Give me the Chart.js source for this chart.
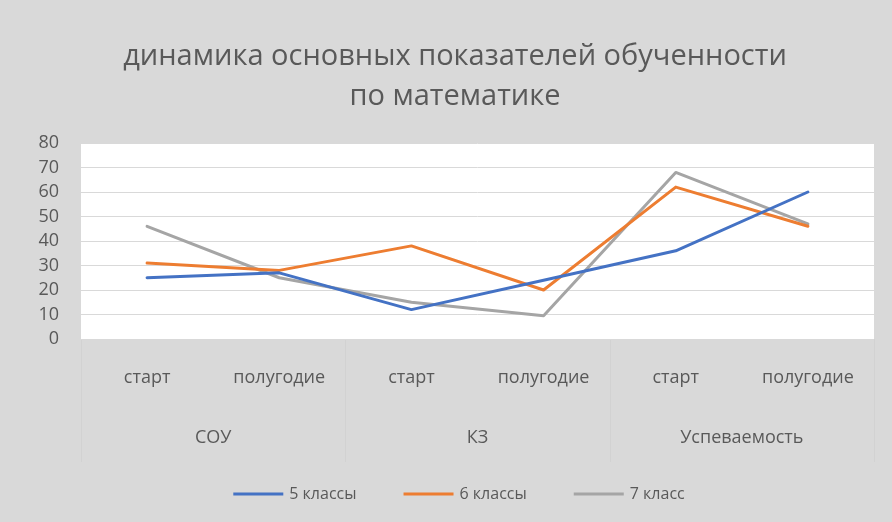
<!DOCTYPE html>
<html>
<head>
<meta charset="utf-8">
<script src="https://cdn.jsdelivr.net/npm/chart.js@4"></script>
<style>
  html, body { margin: 0; padding: 0; background: #d9d9d9; }
  #wrap { width: 892px; height: 522px; }
</style>
</head>
<body>
<div id="wrap"><canvas id="chart" width="892" height="522"></canvas></div>
<script>
// chart data
const periods = ['старт', 'полугодие', 'старт', 'полугодие', 'старт', 'полугодие'];
const groups = ['СОУ', 'КЗ', 'Успеваемость'];
const grade5 = [25, 27, 12, 24, 36, 60];
const grade6 = [31, 28, 38, 20, 62, 46];
const grade7 = [46, 25, 15, 9.5, 68, 47];
const yTicks = [0, 10, 20, 30, 40, 50, 60, 70, 80];

const textColor = '#595959';
const fontFamily = "'Open Sans', 'Noto Sans', sans-serif";

// white plot area + group separators under the axis
const backdrop = {
    id: 'backdrop',
    afterLayout(chart) {
        // title in the original sits a bit right of the canvas centre
        const t = chart.titleBlock;
        if (t) { t.left = 18; t.right = chart.width; }
    },
    beforeDraw(chart) {
        const { ctx, chartArea } = chart;
        ctx.save();
        ctx.fillStyle = '#ffffff';
        ctx.fillRect(chartArea.left, chartArea.top, chartArea.right - chartArea.left, chartArea.bottom - chartArea.top);

        const x2 = chart.scales.x2;
        const step = (x2.right - x2.left) / groups.length;
        ctx.strokeStyle = '#d2d2d2';
        ctx.lineWidth = 1;
        for (let i = 0; i <= groups.length; i++) {
            const x = Math.round(x2.left + i * step) + 0.5;
            ctx.beginPath();
            ctx.moveTo(x, chartArea.bottom);
            ctx.lineTo(x, x2.bottom);
            ctx.stroke();
        }
        ctx.restore();
    }
};

// legend drawn under the axes
const bottomLegend = {
    id: 'bottomLegend',
    afterDraw(chart) {
        const { ctx } = chart;
        const sets = chart.data.datasets;
        const lineLen = 50, gap = 6, itemGap = 47;
        ctx.save();
        ctx.font = "16px " + fontFamily;
        ctx.textBaseline = 'middle';
        let total = 0;
        const widths = sets.map(ds => ctx.measureText(ds.label).width);
        widths.forEach((w, i) => { total += lineLen + gap + w + (i ? itemGap : 0); });
        let x = 459 - total / 2;
        const y = 494;
        sets.forEach((ds, i) => {
            ctx.strokeStyle = ds.borderColor;
            ctx.lineWidth = 3;
            ctx.beginPath();
            ctx.moveTo(x, y);
            ctx.lineTo(x + lineLen, y);
            ctx.stroke();
            ctx.fillStyle = textColor;
            ctx.fillText(ds.label, x + lineLen + gap, y);
            x += lineLen + gap + widths[i] + itemGap;
        });
        ctx.restore();
    }
};

const makeSet = (label, data, color) => ({
    label: label,
    data: data,
    borderColor: color,
    backgroundColor: color,
    borderWidth: 3,
    pointRadius: 0,
    pointHoverRadius: 0,
    tension: 0,
    borderJoinStyle: 'round',
    borderCapStyle: 'round',
    fill: false
});

new Chart(document.getElementById('chart'), {
    type: 'line',
    data: {
        labels: periods,
        datasets: [
            makeSet('5 классы', grade5, '#4472c4'),
            makeSet('6 классы', grade6, '#ed7d31'),
            makeSet('7 класс', grade7, '#a5a5a5')
        ]
    },
    options: {
        responsive: false,
        animation: false,
        layout: { padding: { left: 0, right: 18, top: 0, bottom: 60 } },
        plugins: {
            legend: { display: false },
            tooltip: { enabled: false },
            title: {
                display: true,
                text: ['динамика основных показателей обученности', 'по математике'],
                color: textColor,
                font: { family: fontFamily, size: 29, weight: 'normal', lineHeight: '40px' },
                padding: { top: 37, bottom: 26 }
            }
        },
        scales: {
            y: {
                min: yTicks[0],
                max: yTicks[yTicks.length - 1],
                afterBuildTicks: (scale) => { scale.ticks = yTicks.map(v => ({ value: v })); },
                afterFit: (scale) => { scale.width = 81; },
                ticks: { color: textColor, font: { family: fontFamily, size: 18 }, padding: 22, autoSkip: false },
                grid: { color: '#d9d9d9', lineWidth: 1, drawTicks: false },
                border: { display: false }
            },
            x: {
                weight: 0,
                offset: true,
                afterFit: (scale) => { scale.height = 66; },
                ticks: { color: textColor, font: { family: fontFamily, size: 18 }, padding: 28, maxRotation: 0, autoSkip: false },
                grid: { display: false, drawTicks: false },
                border: { display: false }
            },
            x2: {
                type: 'category',
                position: 'bottom',
                weight: 1,
                offset: true,
                labels: groups,
                afterFit: (scale) => { scale.height = 57; },
                ticks: { color: textColor, font: { family: fontFamily, size: 18 }, padding: 22, maxRotation: 0, autoSkip: false },
                grid: { display: false, drawTicks: false },
                border: { display: false }
            }
        }
    },
    plugins: [backdrop, bottomLegend]
});
</script>
</body>
</html>
